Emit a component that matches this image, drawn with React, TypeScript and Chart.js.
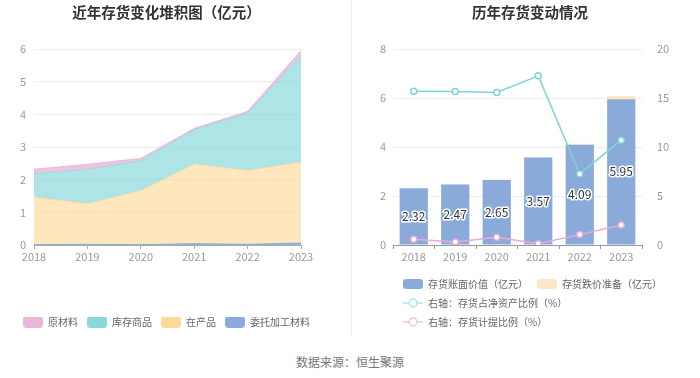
import React, { useEffect, useRef } from 'react';
import { Chart, registerables } from 'chart.js';
Chart.register(...registerables);

const FONT = '"Noto Sans CJK SC", "Noto Sans", sans-serif';
Chart.defaults.font.family = FONT;

// ---- Left chart data (亿元) ----
const years = ['2018', '2019', '2020', '2021', '2022', '2023'];
const rawMaterials = [0.14, 0.15, 0.07, 0.04, 0.05, 0.15];
const finishedGoods = [0.72, 1.06, 0.92, 1.06, 1.76, 3.27];
const workInProgress = [1.45, 1.24, 1.65, 2.43, 2.26, 2.47];
const consignedMaterials = [0.01, 0.02, 0.01, 0.04, 0.02, 0.06];

// ---- Right chart data ----
const bookValue = [2.32, 2.47, 2.65, 3.57, 4.09, 5.95];
const impairment = [0.01, 0.01, 0.02, 0.01, 0.04, 0.12];
const ratioNetAssets = [15.69, 15.66, 15.56, 17.26, 7.25, 10.7];
const provisionRatio = [0.58, 0.31, 0.79, 0.14, 1.06, 2.05];

const leftTitle = '近年存货变化堆积图（亿元）';
const rightTitle = '历年存货变动情况';
const leftLegend = ['原材料', '库存商品', '在产品', '委托加工材料'];
const rightLegend = ['存货账面价值（亿元）', '存货跌价准备（亿元）', '右轴：存货占净资产比例（%）', '右轴：存货计提比例（%）'];
const sourceText = '数据来源：恒生聚源';

const C_PINK = '#e9b8d9';
const C_TEAL = '#88d7d9';
const C_YELLOW = '#fdd99b';
const C_BLUE = '#8aaad9';
const A_PINK = 'rgba(229,172,210,0.7)';
const A_TEAL = 'rgba(136,215,217,0.68)';
const A_YELLOW = 'rgba(253,217,155,0.66)';
const A_BLUE = 'rgba(138,170,217,0.9)';

const BAR_BLUE = '#8aabda';
const BAR_YELLOW = '#fde3b5';
const LINE_TEAL = '#7fd3d6';
const LINE_PINK = '#e8a9d7';

function makeBox(color: string, w: number, h: number, r: number) {
  const c = document.createElement('canvas');
  c.width = w; c.height = h;
  const x = c.getContext('2d')!;
  x.fillStyle = color;
  x.beginPath();
  (x as any).roundRect(0, 0, w, h, r);
  x.fill();
  return c;
}
function makeLineMarker(color: string) {
  const c = document.createElement('canvas');
  c.width = 20; c.height = 12;
  const x = c.getContext('2d')!;
  x.strokeStyle = color; x.lineWidth = 1.3;
  x.beginPath(); x.moveTo(0, 6); x.lineTo(20, 6); x.stroke();
  x.beginPath(); x.arc(10, 6, 4, 0, Math.PI * 2);
  x.fillStyle = '#fff'; x.fill(); x.stroke();
  return c;
}

const legendHeight = (h: number) => ({
  id: 'legendHeight',
  beforeInit(chart: any) {
    const lg = chart.legend;
    const orig = lg.fit;
    lg.fit = function () { orig.call(this); this.height = h; };
  },
});

const barLabels = {
  id: 'barLabels',
  afterDatasetsDraw(chart: any) {
    const meta = chart.getDatasetMeta(0);
    const ctx = chart.ctx;
    ctx.save();
    ctx.font = `12px ${FONT}`;
    ctx.textAlign = 'center';
    ctx.textBaseline = 'middle';
    ctx.lineWidth = 3;
    ctx.lineJoin = 'round';
    ctx.strokeStyle = '#fff';
    ctx.fillStyle = '#333';
    meta.data.forEach((el: any, i: number) => {
      const p = el.getProps(['x', 'y', 'base'], true);
      const cy = (p.y + p.base) / 2;
      const t = bookValue[i].toFixed(2);
      ctx.strokeText(t, p.x, cy);
      ctx.fillText(t, p.x, cy);
    });
    ctx.restore();
  },
};

const tickFont = { size: 11 };

export default function App() {
  const leftRef = useRef<HTMLCanvasElement>(null);
  const rightRef = useRef<HTMLCanvasElement>(null);

  useEffect(() => {
    const leftBoxes = [C_PINK, C_TEAL, C_YELLOW, C_BLUE].map((c) => makeBox(c, 20, 11, 3));
    const rightMarkers = [makeBox(BAR_BLUE, 20, 10, 3), makeBox('#fde8c6', 20, 10, 3), makeLineMarker('#a6e1e3'), makeLineMarker('#efc3e1')];

    const c1 = new Chart(leftRef.current!, {
      type: 'line',
      data: {
        labels: years,
        datasets: [
          { label: leftLegend[3], data: consignedMaterials, fill: 'origin', backgroundColor: A_BLUE, borderColor: C_BLUE, borderWidth: 1, pointRadius: 0, tension: 0 },
          { label: leftLegend[2], data: workInProgress, fill: '-1', backgroundColor: A_YELLOW, borderColor: A_YELLOW, borderWidth: 1, pointRadius: 0, tension: 0 },
          { label: leftLegend[1], data: finishedGoods, fill: '-1', backgroundColor: A_TEAL, borderColor: A_TEAL, borderWidth: 1, pointRadius: 0, tension: 0 },
          { label: leftLegend[0], data: rawMaterials, fill: '-1', backgroundColor: A_PINK, borderColor: C_PINK, borderWidth: 1, pointRadius: 0, tension: 0 },
        ],
      },
      options: {
        responsive: false,
        animation: false,
        events: [],
        layout: { padding: 0 },
        plugins: {
          title: { display: true, text: leftTitle, color: '#333', font: { size: 14.5, weight: 'bold' }, padding: { top: 3.3, bottom: 28.3 } },
          legend: {
            position: 'bottom',
            labels: {
              usePointStyle: true,
              pointStyleWidth: 20,
              padding: 9,
              color: '#666',
              font: { size: 10 },
              generateLabels: () => leftLegend.map((t, i) => ({ text: t, pointStyle: leftBoxes[i], fillStyle: 'transparent', strokeStyle: 'transparent', lineWidth: 0, hidden: false, fontColor: '#666', datasetIndex: 3 - i })),
            },
          },
          tooltip: { enabled: false },
        },
        scales: {
          x: {
            grid: { display: true, drawOnChartArea: false, drawTicks: true, tickLength: 4, color: '#a3abba' },
            border: { color: '#a3abba' },
            ticks: { color: '#999', font: tickFont, padding: 1, maxRotation: 0 },
            afterFit: (s: any) => { s.height = 63; },
          },
          y: {
            stacked: true, min: 0, max: 6,
            ticks: { stepSize: 1, color: '#999', font: tickFont, padding: 8 },
            grid: { color: '#e9edf4', drawTicks: false },
            border: { display: false },
            afterFit: (s: any) => { s.width = 34; },
          },
          yGap: {
            position: 'right', display: true, min: 0, max: 6,
            ticks: { display: false },
            grid: { display: false },
            border: { display: false },
            afterFit: (s: any) => { s.width = 32; },
          },
        },
      } as any,
      plugins: [legendHeight(32)],
    });

    const c2 = new Chart(rightRef.current!, {
      type: 'bar',
      data: {
        labels: years,
        datasets: [
          { type: 'bar', label: rightLegend[0], data: bookValue, backgroundColor: BAR_BLUE, stack: 's', yAxisID: 'y', order: 2, barPercentage: 0.68, categoryPercentage: 1 },
          { type: 'bar', label: rightLegend[1], data: impairment, backgroundColor: BAR_YELLOW, stack: 's', yAxisID: 'y', order: 2, barPercentage: 0.68, categoryPercentage: 1 },
          { type: 'line', label: rightLegend[2], data: ratioNetAssets, yAxisID: 'y1', order: 1, borderColor: LINE_TEAL, borderWidth: 1.5, pointRadius: 3, pointBorderWidth: 1.5, pointBackgroundColor: '#fff', pointBorderColor: LINE_TEAL, tension: 0 },
          { type: 'line', label: rightLegend[3], data: provisionRatio, yAxisID: 'y1', order: 1, borderColor: LINE_PINK, borderWidth: 1.5, pointRadius: 3, pointBorderWidth: 1.5, pointBackgroundColor: '#fff', pointBorderColor: LINE_PINK, tension: 0 },
        ],
      } as any,
      options: {
        responsive: false,
        animation: false,
        events: [],
        layout: { padding: 0 },
        plugins: {
          title: { display: true, text: rightTitle, color: '#333', font: { size: 14.5, weight: 'bold' }, padding: { top: 3.3, bottom: 28.3 } },
          legend: {
            position: 'bottom',
            align: 'start',
            labels: {
              usePointStyle: true,
              pointStyleWidth: 20,
              padding: 9,
              color: '#666',
              font: { size: 10 },
              generateLabels: () => rightLegend.map((t, i) => ({ text: t, pointStyle: rightMarkers[i], fillStyle: 'transparent', strokeStyle: 'transparent', lineWidth: 0, hidden: false, fontColor: '#666', datasetIndex: i })),
            },
          },
          tooltip: { enabled: false },
        },
        scales: {
          x: {
            stacked: true,
            grid: { display: true, drawOnChartArea: false, drawTicks: true, tickLength: 4, color: '#999', offset: true },
            border: { color: '#999' },
            ticks: { color: '#999', font: tickFont, padding: 1, maxRotation: 0 },
            afterFit: (s: any) => { s.height = 25; },
          },
          y: {
            stacked: true, position: 'left', min: 0, max: 8,
            ticks: { stepSize: 2, color: '#999', font: tickFont, padding: 7 },
            grid: { color: '#e9edf4', drawTicks: false },
            border: { display: false },
            afterFit: (s: any) => { s.width = 33; },
          },
          y1: {
            position: 'right', min: 0, max: 20,
            ticks: { stepSize: 5, color: '#999', font: tickFont, padding: 7 },
            grid: { display: false },
            border: { display: false },
            afterFit: (s: any) => { s.width = 58; },
          },
        },
      } as any,
      plugins: [legendHeight(70), barLabels, { id: 'legendShift', afterLayout(chart: any) { chart.legend.left = 34; } }],
    });

    return () => { c1.destroy(); c2.destroy(); };
  }, []);

  return (
    <div style={{ position: 'absolute', left: 0, top: 0, width: 700, height: 378, background: '#fff', fontFamily: FONT }}>
      <canvas ref={leftRef} width={333} height={340} style={{ position: 'absolute', left: 0, top: 0 }} />
      <div style={{ position: 'absolute', left: 351, top: 0, width: 1, height: 335, background: '#eeeeee' }} />
      <canvas ref={rightRef} width={340} height={340} style={{ position: 'absolute', left: 360, top: 0 }} />
      <div style={{ position: 'absolute', left: 0, top: 354, width: 700, textAlign: 'center', fontSize: 12, lineHeight: '16px', color: '#777' }}>{sourceText}</div>
    </div>
  );
}
